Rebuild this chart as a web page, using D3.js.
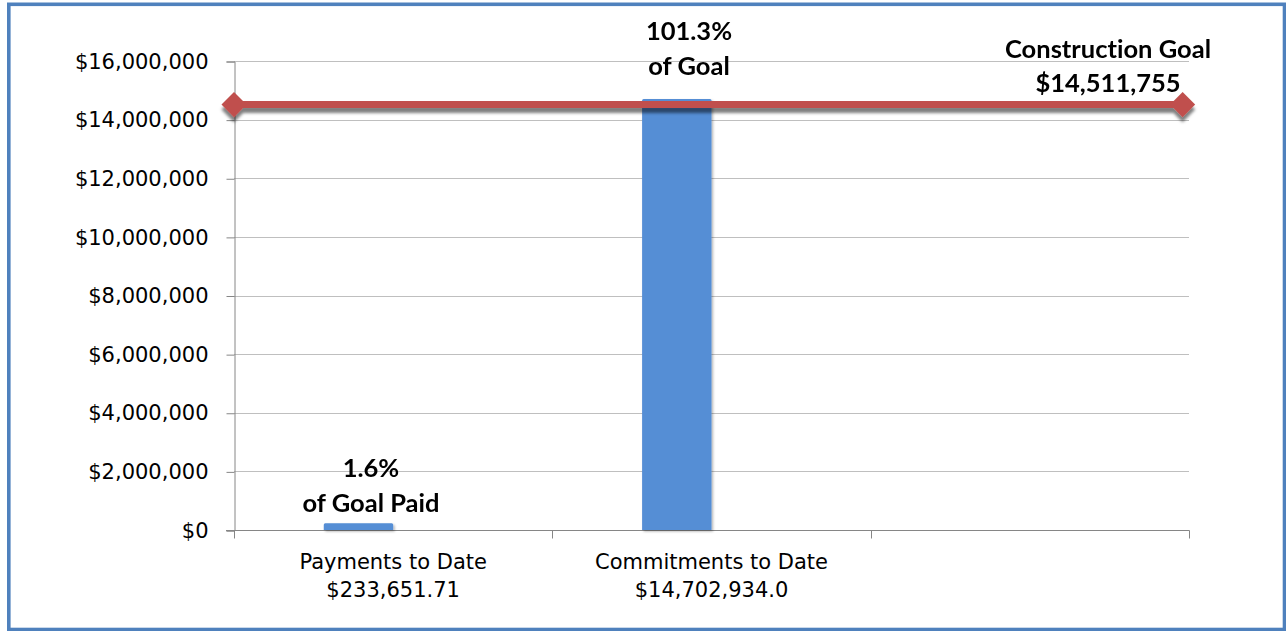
<!DOCTYPE html>
<html>
<head>
<meta charset="utf-8">
<script src="https://cdn.jsdelivr.net/npm/d3@7"></script>
<style>
  html, body { margin: 0; padding: 0; background: #fff; }
  svg { display: block; }
  .tick-label { font-family: "DejaVu Sans", sans-serif; font-size: 21px; fill: #000; }
  .data-label { font-family: Lato, sans-serif; font-weight: bold; font-size: 25.5px; fill: #000;
                font-variant-ligatures: none; }
</style>
</head>
<body>
<script>
// Categories along the x axis (the third slot is left empty)
const categories = ["Payments to Date", "Commitments to Date", ""];
const categorySub = ["$233,651.71", "$14,702,934.0", ""];
// Bar values, in dollars
const barValues = [233651.71, 14702934.0, null];
// Construction goal line
const goalValue = 14511755;
const goalX = [0, 2.98];
// Y axis ticks
const yTicks = [0, 2000000, 4000000, 6000000, 8000000, 10000000, 12000000, 14000000, 16000000];
// Data labels over the bars
const barLabels = [["1.6%", "of Goal Paid"], ["101.3%", "of Goal"], null];
const goalLabel = ["Construction Goal", "$14,511,755"];

const W = 1286, H = 631;
const plot = { left: 234, right: 1189, top: 61, bottom: 530 };

const svg = d3.select("body").append("svg").attr("width", W).attr("height", H);

const defs = svg.append("defs");
const lineShadow = defs.append("filter").attr("id", "lineShadow")
  .attr("x", "-5%").attr("y", "-100%").attr("width", "110%").attr("height", "400%");
lineShadow.append("feDropShadow").attr("dx", 0).attr("dy", 5).attr("stdDeviation", 1.6)
  .attr("flood-color", "#000").attr("flood-opacity", 0.5);
const barShadow = defs.append("filter").attr("id", "barShadow")
  .attr("x", "-20%").attr("y", "-20%").attr("width", "140%").attr("height", "140%");
barShadow.append("feDropShadow").attr("dx", 1.5).attr("dy", 1.5).attr("stdDeviation", 1.2)
  .attr("flood-color", "#000").attr("flood-opacity", 0.3);

// Outer frame
svg.append("rect")
  .attr("x", 8.8).attr("y", 4.3).attr("width", 1275.7).attr("height", 625.2)
  .attr("fill", "none").attr("stroke", "#4F81BD").attr("stroke-width", 3.6);

const y = d3.scaleLinear().domain([0, 16000000]).range([plot.bottom, plot.top]);
const x = d3.scaleBand().domain(d3.range(categories.length)).range([plot.left, plot.right]);
const xLine = d3.scaleLinear().domain([0, categories.length]).range([plot.left, plot.right]);

// Horizontal gridlines
svg.append("g").selectAll("line")
  .data(yTicks.filter(d => d > 0))
  .join("line")
  .attr("x1", plot.left).attr("x2", plot.right)
  .attr("y1", d => Math.round(y(d)) + 0.5).attr("y2", d => Math.round(y(d)) + 0.5)
  .attr("stroke", "#BFBFBF").attr("stroke-width", 1);

// Y axis
const yAxis = d3.axisLeft(y).tickValues(yTicks).tickSize(8).tickPadding(18)
  .tickFormat(d => "$" + d3.format(",")(d));
const gy = svg.append("g").attr("transform", `translate(${plot.left + 0.5},0.5)`).call(yAxis);
gy.select(".domain").attr("stroke", "#868686");
gy.selectAll(".tick line").attr("stroke", "#868686");
gy.selectAll(".tick text").attr("class", "tick-label").attr("fill", "#000")
  .style("font-family", "DejaVu Sans, sans-serif").style("font-size", "21px");

// X axis with ticks at category boundaries
const gx = svg.append("g").attr("transform", `translate(0,${plot.bottom + 0.5})`);
gx.append("line").attr("x1", plot.left - 8).attr("x2", plot.right + 0.5)
  .attr("stroke", "#868686");
gx.selectAll(".xt").data(d3.range(categories.length + 1)).join("line")
  .attr("class", "xt")
  .attr("x1", d => Math.round(xLine(d)) + 0.5).attr("x2", d => Math.round(xLine(d)) + 0.5)
  .attr("y1", 0).attr("y2", 8).attr("stroke", "#868686");

// Category labels
const cat = svg.append("g");
categories.forEach((c, i) => {
  if (!c) return;
  const cx = x(i) + x.bandwidth() / 2;
  cat.append("text").attr("class", "tick-label").attr("x", cx).attr("y", 569)
    .attr("text-anchor", "middle").text(c);
  cat.append("text").attr("class", "tick-label").attr("x", cx).attr("y", 597)
    .attr("text-anchor", "middle").text(categorySub[i]);
});

// Bars: first slot of a two-slot cluster, ending at the band centre
const barW = x.bandwidth() * 0.218;
const bars = svg.append("g").attr("filter", "url(#barShadow)");
barValues.forEach((v, i) => {
  if (v == null) return;
  const cx = x(i) + x.bandwidth() / 2;
  const top = y(v);
  const r = 1.5;
  const x0 = cx - barW, x1 = cx, y1 = plot.bottom;
  bars.append("path")
    .attr("d", `M${x0},${y1}V${top + r}Q${x0},${top} ${x0 + r},${top}H${x1 - r}Q${x1},${top} ${x1},${top + r}V${y1}Z`)
    .attr("fill", "#558ED5");
});

// Goal line with diamond markers
const goalPts = goalX.map(g => [xLine(g), y(goalValue)]);
const gl = svg.append("g").attr("filter", "url(#lineShadow)");
gl.append("path").attr("d", d3.line()(goalPts))
  .attr("stroke", "#C0504D").attr("stroke-width", 7).attr("fill", "none");
gl.selectAll("path.marker").data(goalPts).join("path")
  .attr("class", "marker")
  .attr("d", d3.symbol(d3.symbolDiamond2, 400))
  .attr("transform", d => `translate(${d[0]},${d[1]})`)
  .attr("fill", "#C0504D");

// Data labels
const lbl = svg.append("g");
const labelPos = [
  { x: 371, y1: 477, y2: 512 },
  { x: 689, y1: 40, y2: 75 }
];
barLabels.forEach((l, i) => {
  if (!l) return;
  lbl.append("text").attr("class", "data-label").attr("x", labelPos[i].x).attr("y", labelPos[i].y1)
    .attr("text-anchor", "middle").text(l[0]);
  lbl.append("text").attr("class", "data-label").attr("x", labelPos[i].x).attr("y", labelPos[i].y2)
    .attr("text-anchor", "middle").text(l[1]);
});
lbl.append("text").attr("class", "data-label").attr("x", 1108).attr("y", 58)
  .attr("text-anchor", "middle").text(goalLabel[0]);
lbl.append("text").attr("class", "data-label").attr("x", 1108).attr("y", 92)
  .attr("text-anchor", "middle").text(goalLabel[1]);
</script>
</body>
</html>
